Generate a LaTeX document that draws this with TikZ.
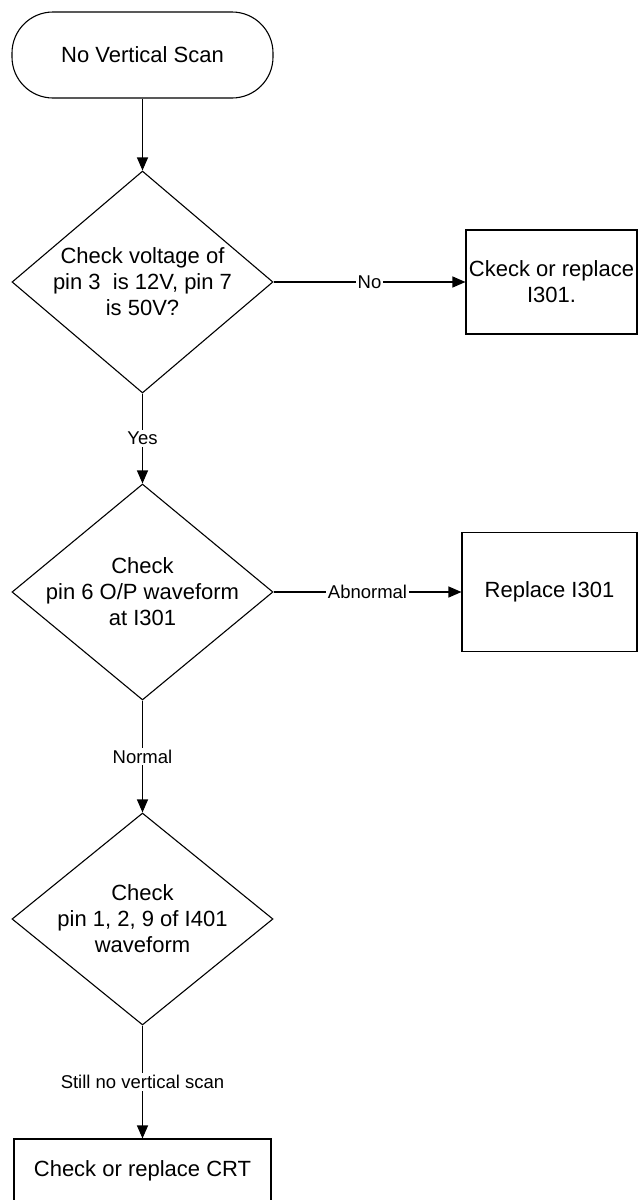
\documentclass[tikz,border=0pt]{standalone}
\usepackage{fontspec}
\setmainfont{Liberation Sans}
\usetikzlibrary{shapes.geometric,arrows.meta}
\begin{document}
\begin{tikzpicture}[x=1pt,y=-1pt,
  line width=1.1pt,
  every node/.style={font=\fontsize{22}{26}\selectfont, align=center},
  terminal/.style={draw, rectangle, rounded corners=41pt, minimum width=261pt, minimum height=86pt, inner sep=0pt},
  decision/.style={draw, diamond, inner sep=0pt, minimum width=261pt},
  action/.style={draw, rectangle, inner sep=0pt},
  flow/.style={-{Triangle[length=13pt,width=11pt]}},
  lbl/.style={fill=white, inner sep=2pt, font=\fontsize{18.5}{22}\selectfont}]
  % page
  \fill[white] (0,0) rectangle (638,1200);
  \useasboundingbox (0,0) rectangle (638,1200);

  % start
  \node[terminal] (start) at (142.5,55) {No Vertical Scan};

  % first decision and its action
  \node[decision, minimum height=222pt] (d1) at (142.5,282) {};
  \node (d1t) at (d1.center) {Check voltage of\\pin 3~ is 12V, pin 7\\is 50V?};
  \node[action, minimum width=171pt, minimum height=104pt] (b1) at (551.5,282) {Ckeck or replace\\I301.};

  % second decision and its action
  \node[decision, minimum height=216pt] (d2) at (142.5,592) {};
  \node (d2t) at (d2.center) {Check\\pin 6 O/P waveform\\at I301};
  \node[action, minimum width=175pt, minimum height=119pt] (b2) at (549.5,592) {Replace I301};

  % third decision
  \node[decision, minimum height=212pt] (d3) at (142.5,919) {};
  \node (d3t) at (d3.center) {Check\\pin 1, 2, 9 of I401\\waveform};

  % final action
  \node[action, minimum width=257pt, minimum height=64pt] (b3) at (142.5,1171) {Check or replace CRT};

  % connectors
  \draw[flow] (start.south) -- (d1.north);
  \draw[flow] (d1.east) -- node[lbl] {No} (b1.west);
  \draw[flow] (d1.south) -- node[lbl] {Yes} (d2.north);
  \draw[flow] (d2.east) -- node[lbl] {Abnormal} (b2.west);
  \draw[flow] (d2.south) -- node[lbl] {Normal} (d3.north);
  \draw[flow] (d3.south) -- node[lbl] {Still no vertical scan} (b3.north);
\end{tikzpicture}
\end{document}
